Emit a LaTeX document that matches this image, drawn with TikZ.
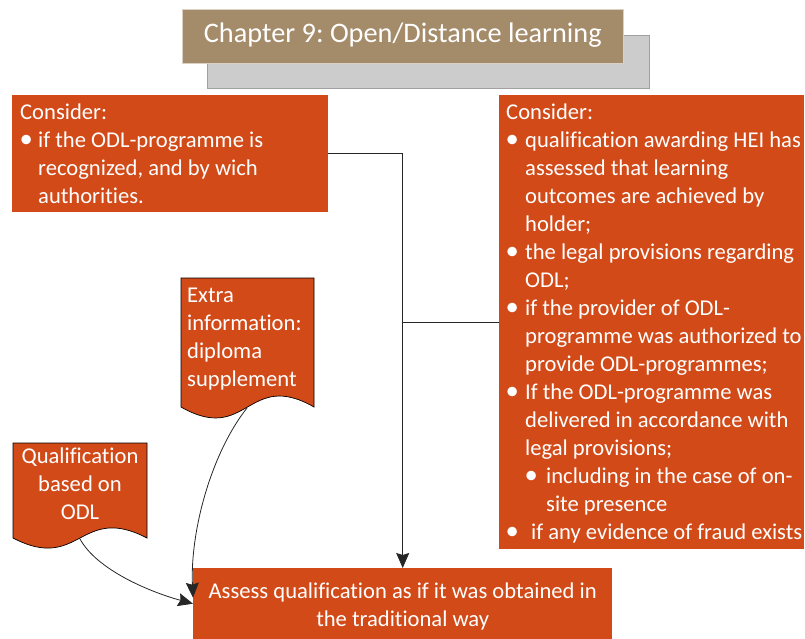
\documentclass[tikz,border=0pt]{standalone}
\usepackage{fontspec}
\setmainfont{Carlito}[RawFeature={-liga;-clig;-dlig;-calt}]
\usetikzlibrary{arrows.meta}
\definecolor{orc}{RGB}{210,74,24}
\definecolor{tanc}{RGB}{164,139,105}
\definecolor{shd}{RGB}{204,204,204}
\definecolor{shdb}{RGB}{160,160,160}
\newcommand\fsz{\fontsize{22.6pt}{28pt}\selectfont}
\newcommand\bl[1][19pt]{\makebox[#1][l]{\hspace{-0.5pt}\raisebox{-0.6pt}{\scalebox{1.18}{\textbullet}}}}
\frenchspacing
\begin{document}
\begin{tikzpicture}[x=1pt,y=-1pt,
  obox/.style={fill=orc, text=white, inner xsep=7pt, inner ysep=0pt, anchor=north west, font=\fsz},
  titlebox/.style={fill=tanc, draw=tanc!40!white, line width=0.6pt, text=white, inner sep=0pt, anchor=north west, font=\fontsize{28.3pt}{33pt}\selectfont},
  shadowbox/.style={fill=shd, draw=shdb, line width=0.6pt, inner sep=0pt, anchor=north west},
  docshape/.style={fill=orc, draw=black, line width=0.7pt},
  doctext/.style={text=white, inner sep=0pt, font=\fsz},
  conn/.style={draw=black!85, line width=0.8pt, -{Stealth[length=15pt, width=13pt, inset=2pt]}},
  plainline/.style={draw=black!85, line width=0.8pt}]
\useasboundingbox (0,0) rectangle (805,639);

% title
\node[shadowbox, minimum width=442pt, minimum height=53pt] (shadow) at (207,35) {};
\node[titlebox, minimum width=441pt, text height=33pt, text depth=21pt] (title) at (182,9) {Chapter 9: Open/Distance learning};

% left consider box
\node[obox, inner xsep=8pt, text height=24pt, text depth=93pt] (lbox) at (12,95)
 {\makebox[300pt][l]{\parbox[t]{420pt}{Consider:\par
  \hangindent=18pt\hangafter=1 \bl[18pt]if the ODL-programme is\newline recognized, and by wich\newline authorities.}}};

% right consider box
\node[obox, text height=24pt, text depth=430pt] (rbox) at (499,95)
 {\makebox[291pt][l]{\parbox[t]{420pt}{Consider:\par
  \hangindent=19pt\hangafter=1 \bl qualification awarding HEI has\newline assessed that learning\newline outcomes are achieved by\newline holder;\par
  \hangindent=19pt\hangafter=1 \bl the legal provisions regarding\newline ODL;\par
  \hangindent=19pt\hangafter=1 \bl if the provider of ODL-\newline programme was authorized to\newline provide ODL-programmes;\par
  \hangindent=19pt\hangafter=1 \bl If the ODL-programme was\newline delivered in accordance with\newline legal provisions;\par
  \hangindent=40pt\hangafter=1 \hspace*{19pt}\bl[21pt]including in the case of on-\newline site presence\par
  \bl[25pt]if any evidence of fraud exists}}};

% bottom box
\node[obox, inner xsep=0pt, text height=30pt, text depth=41pt] (assess) at (193,568)
 {\parbox[t]{419pt}{\centering Assess qualification as if it was obtained in\\the traditional way}};

% documents
\path[docshape] (181,278) -- (314,278) -- (314,407) .. controls (247.5,369) and (247.5,445) .. (181,407) -- cycle;
\node[doctext, anchor=base west] (extra) at (187,302) {\parbox[t]{125pt}{\raggedright Extra\\information:\\diploma\\supplement}};
\path[docshape] (13,443) -- (147,443) -- (147,538) .. controls (80,503) and (80,573) .. (13,538) -- cycle;
\node[doctext, anchor=base] (qual) at (80,463) {\parbox[t]{134pt}{\centering Qualification\\based on\\ODL}};

\coordinate (xs) at (247,408);
\coordinate (qs) at (80,539);

% connectors
\draw[conn] (lbox.east) -| (assess.north);
\draw[plainline] (rbox.west) -- (rbox.west -| assess.north);
\draw[conn] (xs) .. controls (212,452) and (190,530) .. ([yshift=6pt]assess.west);
\draw[conn] (qs) .. controls (97,570) and (150,592) .. (assess.west);
\end{tikzpicture}
\end{document}
